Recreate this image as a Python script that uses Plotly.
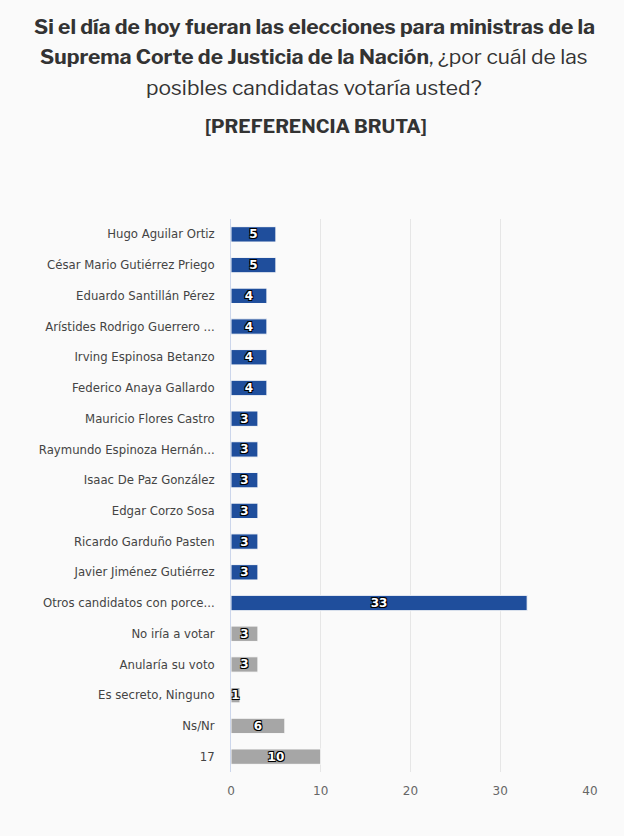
import plotly.graph_objects as go

categories = [
    "Hugo Aguilar Ortiz",
    "César Mario Gutiérrez Priego",
    "Eduardo Santillán Pérez",
    "Arístides Rodrigo Guerrero ...",
    "Irving Espinosa Betanzo",
    "Federico Anaya Gallardo",
    "Mauricio Flores Castro",
    "Raymundo Espinoza Hernán...",
    "Isaac De Paz González",
    "Edgar Corzo Sosa",
    "Ricardo Garduño Pasten",
    "Javier Jiménez Gutiérrez",
    "Otros candidatos con porce...",
    "No iría a votar",
    "Anularía su voto",
    "Es secreto, Ninguno",
    "Ns/Nr",
    "17",
]
values = [5, 5, 4, 4, 4, 4, 3, 3, 3, 3, 3, 3, 33, 3, 3, 1, 6, 10]
group = ["cand"] * 13 + ["other"] * 5
color_map = {"cand": "#1f4e9c", "other": "#a6a6a6"}
x_ticks = [0, 10, 20, 30, 40]
title_lines = [
    "<b>Si el día de hoy fueran las elecciones para ministras de la</b>",
    "<b>Suprema Corte de Justicia de la Nación</b>, ¿por cuál de las",
    "posibles candidatas votaría usted?",
]
subtitle = "<b>[PREFERENCIA BRUTA]</b>"

BG = "#fafafa"
colors = [color_map[g] for g in group]

L, R, T, B = 231, 34, 219, 64
W, H = 624, 836
plot_w = W - L - R
plot_h = H - T - B

fig = go.Figure(go.Bar(
    x=values,
    y=categories,
    orientation="h",
    marker=dict(color=colors, line=dict(color=BG, width=1)),
    text=[str(v) for v in values],
    textposition="inside",
    insidetextanchor="middle",
    constraintext="none",
    textangle=0,
    textfont=dict(
        family="DejaVu Sans, sans-serif", size=12, color="white", weight="bold",
        shadow="-1px -1px 0 #000, 1px -1px 0 #000, -1px 1px 0 #000, 1px 1px 0 #000",
    ),
    hoverinfo="x+y",
))

title_font = "Libre Franklin, Roboto, Inter, sans-serif"
def px_x(px):
    return (px - L) / plot_w
def px_y(py):
    return 1 + (T - py) / plot_h

anns = []
for i, line in enumerate(title_lines):
    anns.append(dict(
        text=line, xref="paper", yref="paper", x=px_x(314), y=px_y(26 + 30.5 * i),
        xanchor="center", yanchor="middle", showarrow=False,
        font=dict(family=title_font, size=21, color="#333333"),
    ))
anns.append(dict(
    text=subtitle, xref="paper", yref="paper", x=px_x(316), y=px_y(127),
    xanchor="center", yanchor="middle", showarrow=False,
    font=dict(family=title_font, size=19, color="#333333"),
))

fig.update_layout(
    width=W, height=H,
    paper_bgcolor=BG, plot_bgcolor=BG,
    margin=dict(l=L, r=R, t=T, b=B),
    bargap=0.5,
    showlegend=False,
    xaxis=dict(
        range=[0, 40], tickvals=x_ticks, showgrid=True, gridcolor="#e6e6e6",
        gridwidth=1, zeroline=False, showline=False,
        tickfont=dict(family="DejaVu Sans, sans-serif", size=12, color="#666666"),
        ticks="", ticklabelstandoff=10, fixedrange=True,
    ),
    yaxis=dict(
        autorange="reversed", showline=True, linecolor="#ccd6eb", linewidth=1,
        ticks="", ticklabelstandoff=13,
        tickfont=dict(family="DejaVu Sans, sans-serif", size=11.7, color="#444444"),
        fixedrange=True,
    ),
    annotations=anns,
)

fig.write_html("out.html")
